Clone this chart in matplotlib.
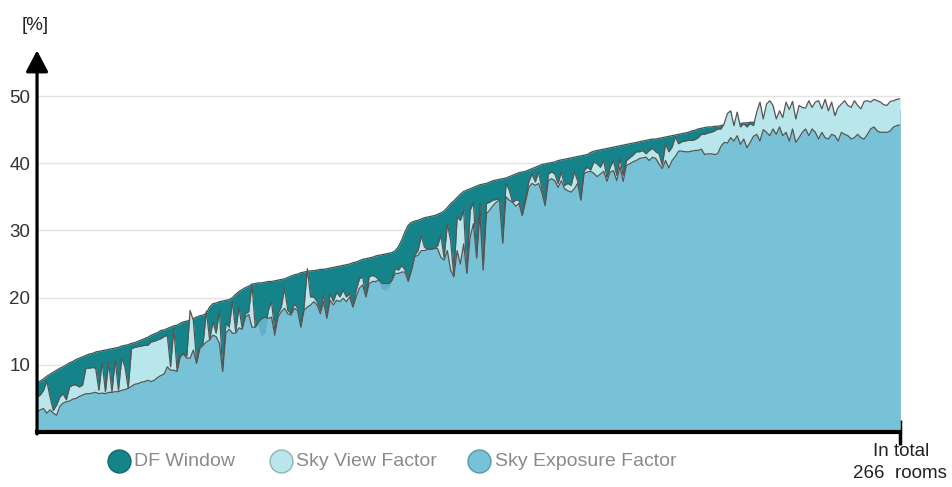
import numpy as np
import matplotlib.pyplot as plt
from matplotlib.lines import Line2D

plt.rcParams['font.family'] = ['Liberation Sans', 'DejaVu Sans']

# values per room (rooms sorted by DF Window)
df_window = [
    7.3, 7.6, 7.9, 8.3, 8.6, 8.9, 9.2, 9.5, 9.7, 10.0,
    10.3, 10.5, 10.8, 11.0, 11.2, 11.4, 11.6, 11.7, 11.9, 12.0,
    12.1, 12.2, 12.3, 12.4, 12.5, 12.6, 12.8, 12.9, 13.0, 13.2,
    13.3, 13.5, 13.7, 13.9, 14.1, 14.4, 14.6, 14.8, 15.1, 15.2,
    15.4, 15.6, 15.8, 15.9, 16.2, 16.4, 16.5, 16.7, 16.9, 17.1,
    17.3, 17.4, 17.7, 18.6, 19.1, 19.2, 19.4, 19.5, 19.6, 19.7,
    20.0, 20.5, 20.9, 21.2, 21.5, 21.7, 22.0, 22.1, 22.2, 22.2,
    22.3, 22.4, 22.4, 22.5, 22.6, 22.7, 22.8, 23.0, 23.2, 23.4,
    23.5, 23.7, 23.8, 23.9, 24.0, 24.0, 24.1, 24.2, 24.2, 24.3,
    24.4, 24.5, 24.6, 24.7, 24.8, 24.9, 25.0, 25.2, 25.3, 25.5,
    25.7, 25.8, 25.9, 26.0, 26.2, 26.3, 26.4, 26.5, 26.6, 26.7,
    27.0, 27.6, 28.6, 29.8, 30.8, 31.2, 31.4, 31.5, 31.7, 31.9,
    32.0, 32.1, 32.2, 32.4, 32.6, 32.9, 33.4, 34.0, 34.4, 34.9,
    35.4, 35.8, 36.0, 36.2, 36.4, 36.6, 36.8, 36.9, 37.0, 37.2,
    37.4, 37.5, 37.6, 37.7, 37.8, 38.0, 38.2, 38.4, 38.6, 38.7,
    38.8, 39.0, 39.2, 39.4, 39.6, 39.8, 39.9, 40.0, 40.1, 40.2,
    40.4, 40.5, 40.6, 40.7, 40.8, 40.9, 41.0, 41.1, 41.2, 41.3,
    41.6, 41.8, 41.9, 42.0, 42.1, 42.2, 42.3, 42.4, 42.5, 42.6,
    42.7, 42.8, 42.9, 43.0, 43.1, 43.2, 43.3, 43.4, 43.5, 43.6,
    43.6, 43.7, 43.8, 43.9, 44.0, 44.1, 44.2, 44.3, 44.4, 44.5,
    44.6, 44.8, 44.9, 45.1, 45.2, 45.3, 45.4, 45.4, 45.5, 45.5,
    45.6, 45.7, 45.7, 45.8, 45.8, 45.9, 45.9, 46.0, 46.0, 46.1,
    46.1, 46.2, 46.2, 46.3, 46.3, 46.4, 46.4, 46.5, 46.5, 46.6,
    46.6, 46.7, 46.7, 46.8, 46.8, 46.9, 47.0, 47.0, 47.1, 47.1,
    47.2, 47.2, 47.3, 47.3, 47.4, 47.4, 47.4, 47.5, 47.5, 47.5,
    47.6, 47.6, 47.6, 47.7, 47.7, 47.7, 47.8, 47.8, 47.8, 47.9,
    47.9, 47.9, 48.0, 48.0, 48.0, 48.0,
]

sky_view = [
    5.2, 5.5, 6.2, 7.6, 5.2, 3.2, 4.0, 5.2, 5.7, 4.8,
    6.7, 7.0, 7.0, 6.7, 7.0, 9.5, 9.5, 9.6, 9.5, 6.2,
    10.4, 6.0, 10.4, 6.0, 10.7, 6.2, 11.0, 9.7, 6.5, 12.4,
    12.6, 12.7, 12.8, 12.9, 12.9, 13.4, 13.5, 13.7, 13.9, 14.2,
    14.4, 9.7, 15.4, 9.2, 11.4, 11.7, 11.3, 18.1, 16.6, 10.4,
    12.7, 13.2, 18.0, 13.7, 16.4, 14.7, 18.1, 9.0, 16.2, 15.6,
    19.4, 14.9, 18.6, 15.4, 17.6, 17.9, 22.0, 15.6, 16.2, 14.4,
    14.7, 18.1, 19.4, 15.1, 17.6, 18.6, 21.4, 18.1, 17.6, 19.1,
    18.4, 15.6, 18.6, 24.3, 20.1, 20.1, 19.4, 18.1, 20.4, 17.1,
    20.6, 19.4, 20.8, 20.1, 21.1, 20.1, 20.6, 18.6, 21.1, 22.8,
    23.1, 20.1, 23.1, 23.3, 23.1, 22.6, 21.4, 21.1, 21.6, 22.6,
    24.3, 24.1, 24.8, 24.1, 22.6, 24.1, 26.3, 27.0, 29.2, 27.5,
    27.2, 27.2, 27.3, 27.7, 29.3, 25.9, 31.0, 28.5, 23.1, 32.0,
    31.5, 33.0, 23.6, 33.0, 34.2, 25.9, 34.0, 24.1, 34.0, 34.2,
    34.5, 34.6, 34.7, 28.1, 37.0, 36.0, 34.2, 34.5, 34.5, 32.2,
    34.7, 37.2, 38.4, 37.2, 38.7, 36.2, 33.7, 38.4, 38.7, 38.4,
    37.0, 38.7, 36.7, 37.0, 36.7, 38.7, 37.4, 34.5, 38.9, 39.4,
    39.0, 40.2, 39.9, 39.4, 40.4, 37.9, 39.4, 40.4, 38.2, 40.7,
    38.2, 40.4, 40.8, 41.2, 41.7, 41.7, 41.9, 41.4, 41.9, 42.2,
    41.7, 41.4, 39.7, 42.9, 41.7, 42.4, 43.9, 42.9, 43.2, 43.3,
    43.4, 43.4, 43.5, 43.8, 44.3, 44.3, 44.5, 44.6, 44.8, 45.1,
    45.1, 45.9, 47.4, 47.8, 45.6, 47.6, 45.4, 45.9, 45.4, 45.9,
    45.6, 47.6, 49.1, 46.6, 48.8, 49.3, 48.6, 46.6, 47.8, 46.8,
    49.1, 48.0, 49.2, 46.6, 48.6, 48.3, 48.2, 49.3, 48.3, 49.1,
    49.3, 48.1, 49.5, 47.8, 49.1, 47.1, 48.3, 48.8, 49.3, 48.6,
    48.3, 49.3, 48.6, 48.1, 49.2, 49.3, 49.1, 49.5, 49.3, 49.1,
    48.7, 48.6, 49.2, 49.3, 49.5, 49.6,
]

sky_exposure = [
    3.0, 3.3, 3.5, 2.8, 3.3, 2.8, 2.5, 3.8, 4.3, 4.5,
    4.6, 4.9, 5.0, 5.3, 5.5, 5.7, 5.7, 5.8, 5.9, 5.7,
    5.8, 5.7, 5.9, 5.9, 6.0, 6.0, 6.2, 6.3, 6.5, 6.8,
    7.1, 7.2, 7.4, 7.5, 7.7, 7.5, 7.7, 8.1, 8.4, 8.6,
    9.7, 9.2, 9.2, 9.0, 11.2, 11.6, 11.0, 11.0, 12.2, 10.2,
    12.4, 12.9, 13.4, 13.7, 14.4, 14.2, 13.2, 9.0, 14.7, 15.3,
    14.7, 14.7, 15.5, 15.3, 17.1, 17.5, 15.6, 15.6, 16.4, 16.9,
    17.1, 16.9, 17.1, 14.4, 17.1, 17.9, 18.4, 17.6, 17.4, 18.4,
    18.1, 15.6, 18.1, 18.6, 18.9, 19.4, 18.9, 17.6, 19.4, 16.9,
    19.6, 18.9, 19.6, 19.4, 19.9, 19.4, 20.1, 18.6, 20.1, 21.4,
    21.9, 20.1, 22.1, 22.4, 22.4, 22.6, 22.1, 22.1, 22.1, 22.6,
    23.6, 23.6, 23.8, 23.8, 22.4, 24.1, 26.1, 26.3, 27.0, 27.0,
    27.2, 27.2, 27.3, 27.3, 26.0, 25.6, 27.0, 24.1, 23.1, 27.0,
    25.0, 28.0, 23.6, 29.0, 31.0, 25.9, 32.5, 24.1, 32.5, 33.0,
    33.7, 34.2, 34.5, 28.1, 35.0, 34.5, 34.2, 33.6, 34.0, 32.2,
    34.2, 36.4, 37.0, 36.7, 37.0, 35.7, 33.7, 37.4, 37.7, 37.4,
    36.4, 37.4, 36.2, 35.9, 35.7, 36.2, 37.0, 34.5, 38.5, 38.7,
    38.8, 38.5, 38.0, 38.4, 38.8, 37.3, 38.7, 38.9, 37.4, 39.5,
    37.3, 39.7, 39.9, 40.2, 40.4, 40.7, 40.8, 40.9, 40.4, 40.9,
    40.7, 39.9, 39.2, 40.4, 39.3, 40.4, 41.0, 41.8, 41.8, 41.7,
    41.7, 41.8, 41.9, 41.9, 42.1, 41.3, 41.4, 41.4, 41.3, 41.4,
    42.5, 43.1, 43.0, 43.8, 43.3, 44.1, 42.8, 43.6, 42.3, 43.1,
    44.0, 44.3, 43.3, 45.0, 44.6, 44.1, 45.1, 44.3, 45.4, 44.1,
    44.6, 43.3, 45.1, 43.1, 43.8, 44.6, 45.1, 44.1, 45.1, 44.6,
    43.6, 44.6, 43.8, 43.6, 44.3, 44.1, 43.3, 44.6, 44.3, 44.1,
    43.6, 43.8, 44.3, 43.8, 43.6, 44.3, 45.1, 45.4, 44.8, 44.6,
    44.6, 44.6, 44.8, 45.4, 45.6, 45.7,
]

series_names = ["DF Window", "Sky View Factor", "Sky Exposure Factor"]
y_ticks = [10, 20, 30, 40, 50]

rooms = np.arange(len(df_window))
n_last = rooms[-1]

c_df = '#14848a'
c_svf = '#b8e6ea'
c_sef = '#6dbcd5'
edge = '#555555'

fig = plt.figure(figsize=(9.52, 4.87), dpi=100)
ax = fig.add_axes([0.0389, 0.1129, 0.9065, 0.7865])

for y in y_ticks:
    ax.axhline(y, color='#e3e3e3', lw=1, zorder=0)

# layered areas, each drawn from zero with its outline
ax.fill_between(rooms, 0, df_window, color=c_df, lw=0, zorder=1)
ax.plot(rooms, df_window, color='#3d5556', lw=0.9, zorder=2)
ax.fill_between(rooms, 0, sky_view, color=c_svf, lw=0, zorder=3)
ax.plot(rooms, sky_view, color=edge, lw=0.9, zorder=4)
ax.fill_between(rooms, 0, sky_exposure, color=c_sef, alpha=0.85, lw=0, zorder=5)
ax.plot(rooms, sky_exposure, color=edge, lw=0.9, zorder=6)

ax.set_xlim(0, n_last)
ax.set_ylim(0, 57)

for s in ['top', 'right', 'left']:
    ax.spines[s].set_visible(False)
ax.spines['bottom'].set_linewidth(3)
ax.spines['bottom'].set_zorder(10)

ax.set_yticks(y_ticks)
ax.tick_params(axis='y', length=0, pad=5, labelsize=13.5, labelcolor='#333333')
ax.set_xticks([n_last])
ax.set_xticklabels([''])
ax.tick_params(axis='x', length=18, width=2.5, direction='inout', color='black')

# y axis drawn as an arrow
ax.annotate('', xy=(0, 56.8), xytext=(0, -0.3),
            arrowprops=dict(arrowstyle='-|>,head_length=0.65,head_width=0.34',
                            lw=2.3, color='black', shrinkA=0, shrinkB=0,
                            mutation_scale=20),
            annotation_clip=False, zorder=11)

fig.text(22 / 952, 1 - 25 / 487, '[%]', ha='left', va='center', fontsize=13.5, color='#222222')
fig.text(901 / 952, 1 - 452 / 487, 'In total', ha='center', va='center', fontsize=13.5, color='#222222')
fig.text(900 / 952, 1 - 474 / 487, '266  rooms', ha='center', va='center', fontsize=13.5, color='#222222')

# legend drawn by hand
legend_items = [
    (119, 134, series_names[0], c_df, '#0f6a6e'),
    (281, 296, series_names[1], c_svf, '#8fb3b7'),
    (479, 495, series_names[2], '#78c2d8', '#5a97a8'),
]
ly = 1 - 461 / 487
for cx, tx, label, fc, ec in legend_items:
    fig.add_artist(Line2D([cx / 952], [ly], transform=fig.transFigure, marker='o',
                          ms=16.5, mfc=fc, mec=ec, mew=1, ls='none'))
    fig.text(tx / 952, ly, label, ha='left', va='center', fontsize=14, color='#8a8a8a')

fig.savefig('out.png', dpi=100)
